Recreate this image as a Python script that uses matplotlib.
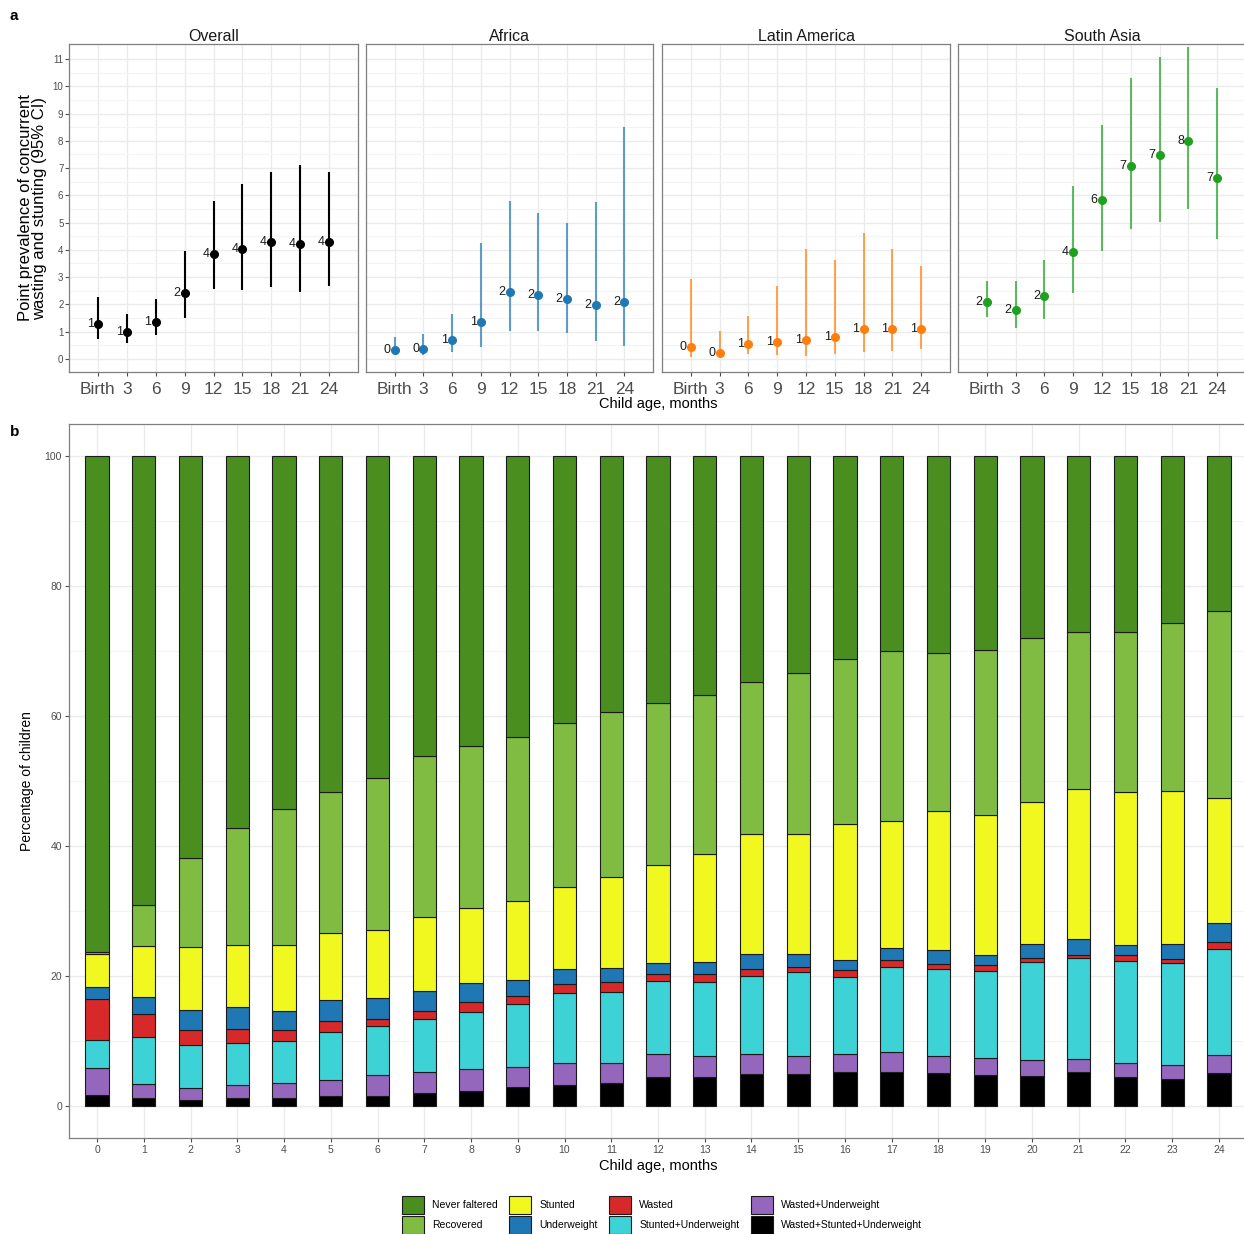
import numpy as np
import matplotlib
matplotlib.use("Agg")
import matplotlib.pyplot as plt
from matplotlib.patches import Patch

plt.rcParams['font.family'] = ['Liberation Sans', 'DejaVu Sans']

# ---------------- Panel a data ----------------
age_labels = ["Birth", "3", "6", "9", "12", "15", "18", "21", "24"]
regions = ["Overall", "Africa", "Latin America", "South Asia"]
region_colors = ["#000000", "#1F78B4", "#FF7F0E", "#1FA01F"]

overall_est = [1.28, 0.97, 1.37, 2.42, 3.86, 4.03, 4.29, 4.22, 4.29]
overall_lo = [0.73, 0.57, 0.88, 1.50, 2.57, 2.53, 2.65, 2.47, 2.68]
overall_hi = [2.26, 1.66, 2.19, 3.96, 5.81, 6.41, 6.86, 7.11, 6.86]

africa_est = [0.34, 0.37, 0.70, 1.36, 2.47, 2.35, 2.20, 1.99, 2.07]
africa_lo = [0.15, 0.15, 0.27, 0.43, 1.03, 1.03, 0.94, 0.66, 0.48]
africa_hi = [0.82, 0.90, 1.66, 4.25, 5.79, 5.35, 4.98, 5.77, 8.52]

latam_est = [0.44, 0.20, 0.53, 0.61, 0.68, 0.79, 1.08, 1.09, 1.11]
latam_lo = [0.07, 0.06, 0.17, 0.15, 0.11, 0.17, 0.24, 0.29, 0.35]
latam_hi = [2.92, 1.03, 1.58, 2.66, 4.03, 3.62, 4.60, 4.03, 3.41]

sasia_est = [2.08, 1.80, 2.30, 3.92, 5.83, 7.07, 7.48, 8.00, 6.65]
sasia_lo = [1.52, 1.14, 1.45, 2.42, 3.94, 4.78, 5.02, 5.51, 4.40]
sasia_hi = [2.84, 2.86, 3.63, 6.33, 8.57, 10.31, 11.08, 11.43, 9.93]

# ---------------- Panel b data ----------------
months = list(range(25))
never_faltered = [76.4, 69.1, 61.9, 57.3, 54.3, 51.7, 49.5, 46.2, 44.6, 43.2, 41.1, 39.3, 38.0,
                  36.8, 34.8, 33.3, 31.2, 30.0, 30.3, 29.8, 28.0, 27.1, 27.0, 25.6, 23.8]
recovered = [0.3, 6.3, 13.7, 18.0, 21.0, 21.7, 23.4, 24.8, 25.0, 25.3, 25.2, 25.5, 25.0,
             24.5, 23.4, 24.9, 25.4, 26.2, 24.3, 25.5, 25.2, 24.2, 24.7, 25.9, 28.8]
stunted = [5.1, 7.9, 9.7, 9.5, 10.2, 10.4, 10.5, 11.3, 11.5, 12.1, 12.6, 14.0, 15.0,
           16.6, 18.4, 18.4, 20.9, 19.6, 21.5, 21.5, 21.9, 23.0, 23.5, 23.6, 19.2]
underweight = [1.8, 2.6, 3.0, 3.4, 2.9, 3.1, 3.2, 3.1, 3.0, 2.5, 2.3, 2.2, 1.7,
               1.9, 2.4, 2.0, 1.6, 1.8, 2.1, 1.5, 2.2, 2.5, 1.6, 2.3, 3.0]
wasted = [6.3, 3.5, 2.4, 2.2, 1.7, 1.8, 1.1, 1.2, 1.5, 1.3, 1.4, 1.5, 1.1,
          1.1, 1.1, 0.9, 1.1, 1.0, 0.8, 0.9, 0.6, 0.5, 0.9, 0.7, 1.1]
stunted_underweight = [4.3, 7.3, 6.6, 6.4, 6.4, 7.3, 7.6, 8.2, 8.8, 9.6, 10.8, 10.9, 11.3,
                       11.4, 11.9, 12.8, 11.8, 13.2, 13.3, 13.5, 15.1, 15.5, 15.7, 15.7, 16.3]
wasted_underweight = [4.2, 2.1, 1.8, 2.1, 2.4, 2.5, 3.3, 3.3, 3.3, 3.2, 3.4, 3.1, 3.5,
                      3.3, 3.2, 2.9, 2.9, 3.0, 2.7, 2.6, 2.5, 2.1, 2.2, 2.1, 2.8]
wasted_stunted_underweight = [1.6, 1.2, 0.9, 1.1, 1.1, 1.5, 1.4, 1.9, 2.3, 2.8, 3.2, 3.5, 4.4,
                              4.4, 4.8, 4.8, 5.1, 5.2, 5.0, 4.7, 4.5, 5.1, 4.4, 4.1, 5.0]

categories = ["Never faltered", "Recovered", "Stunted", "Underweight", "Wasted",
              "Stunted+Underweight", "Wasted+Underweight", "Wasted+Stunted+Underweight"]
cat_colors = ["#4B8E20", "#80BC42", "#F0F820", "#1F78B4", "#D7292A",
              "#3CD2D6", "#9467BD", "#000000"]

# ---------------- Figure ----------------
W, H = 1244, 1234
fig = plt.figure(figsize=(W / 100, H / 100), dpi=100)

def fx(px):
    return px / W

def fy(py):
    return 1 - py / H

tick_col = "#4D4D4D"
grid_major = "#EBEBEB"
grid_minor = "#F4F4F4"
border_col = "#7F7F7F"

panel_x = [(69, 358), (366, 653), (662, 950), (958, 1246)]
ptop, pbot = 44, 372
est_all = [overall_est, africa_est, latam_est, sasia_est]
lo_all = [overall_lo, africa_lo, latam_lo, sasia_lo]
hi_all = [overall_hi, africa_hi, latam_hi, sasia_hi]

xpos = np.arange(len(age_labels))
for i, (x0, x1) in enumerate(panel_x):
    ax = fig.add_axes([fx(x0), fy(pbot), fx(x1 - x0), (pbot - ptop) / H])
    ax.set_xlim(-1, 9)
    ax.set_ylim(-0.48, 11.55)
    ax.set_yticks(range(0, 12))
    ax.set_yticks(np.arange(0.5, 11.5, 1.0), minor=True)
    ax.set_xticks(xpos)
    ax.set_xticklabels(age_labels, fontsize=12.5, color=tick_col)
    ax.grid(True, which='major', color=grid_major, lw=1.0)
    ax.grid(True, which='minor', axis='y', color=grid_minor, lw=0.8)
    ax.set_axisbelow(True)
    for s in ax.spines.values():
        s.set_color(border_col)
        s.set_linewidth(0.9)
    ax.tick_params(axis='x', length=3, color=tick_col, pad=4)
    ax.tick_params(axis='y', which='major', length=3, color=tick_col, labelsize=7,
                   labelcolor=tick_col, pad=1)
    ax.tick_params(axis='y', which='minor', length=0)
    if i > 0:
        ax.tick_params(axis='y', which='major', length=0, labelleft=False)
    col = region_colors[i]
    est = np.array(est_all[i])
    lo = np.array(lo_all[i])
    hi = np.array(hi_all[i])
    ax.vlines(xpos, lo, hi, color=col, lw=1.5, alpha=1.0 if i == 0 else 0.7, zorder=3)
    ax.plot(xpos, est, 'o', color=col, ms=5.5, zorder=4)
    for xv, v in zip(xpos, est):
        ax.annotate(f"{v:.0f}", (xv, v), xytext=(-3, 0), textcoords='offset points',
                    ha='right', va='center', fontsize=9, color='#1A1A1A', zorder=5)
    ax.set_title(regions[i], fontsize=11.5, pad=1.5, color='#1A1A1A')
    if i == 0:
        ax.set_ylabel("Point prevalence of concurrent\nwasting and stunting (95% CI)",
                      fontsize=12, labelpad=4, linespacing=0.95)

fig.text(fx(658), fy(404), "Child age, months", ha='center', va='center', fontsize=10.5)
fig.text(fx(10), fy(16), "a", ha='left', va='center', fontsize=11, fontweight='bold')
fig.text(fx(10), fy(432), "b", ha='left', va='center', fontsize=11, fontweight='bold')

# ---------------- Panel b ----------------
bx0, bx1, by0, by1 = 69, 1247, 424, 1138
axb = fig.add_axes([fx(bx0), fy(by1), fx(bx1 - bx0), (by1 - by0) / H])
axb.set_xlim(-0.6, 24.6)
axb.set_ylim(-5, 105)
series_bottom_up = [wasted_stunted_underweight, wasted_underweight, stunted_underweight,
                    wasted, underweight, stunted, recovered, never_faltered]
colors_bottom_up = cat_colors[::-1]
bottom = np.zeros(len(months))
for vals, c in zip(series_bottom_up, colors_bottom_up):
    v = np.array(vals)
    axb.bar(months, v, bottom=bottom, width=0.5, color=c, edgecolor='#1A1A1A',
            linewidth=0.8, zorder=3)
    bottom = bottom + v
axb.set_xticks(months)
axb.set_xticklabels([str(m) for m in months], fontsize=7.5, color=tick_col)
axb.set_yticks([0, 20, 40, 60, 80, 100])
axb.set_yticks([10, 30, 50, 70, 90], minor=True)
axb.tick_params(axis='y', which='major', labelsize=7.5, labelcolor=tick_col, length=3,
                color=tick_col, pad=2)
axb.tick_params(axis='y', which='minor', length=0)
axb.tick_params(axis='x', length=3, color=tick_col, pad=2)
axb.grid(True, which='major', color=grid_major, lw=1.0)
axb.grid(True, which='minor', axis='y', color=grid_minor, lw=0.8)
axb.set_axisbelow(True)
for s in axb.spines.values():
    s.set_color(border_col)
    s.set_linewidth(0.9)
axb.set_ylabel("Percentage of children", fontsize=10, labelpad=8)
axb.set_xlabel("Child age, months", fontsize=10.5, labelpad=3)

handles = [Patch(facecolor=c, edgecolor='#1A1A1A', linewidth=0.8, label=l)
           for l, c in zip(categories, cat_colors)]
fig.legend(handles=handles, loc='center', bbox_to_anchor=(fx(662), fy(1215)), ncol=4,
           frameon=False, fontsize=7.5, handlelength=2.1, handleheight=2.2,
           handletextpad=0.8, columnspacing=1.1, labelspacing=0.25, borderpad=0.2)

fig.savefig("out.png", dpi=100)
